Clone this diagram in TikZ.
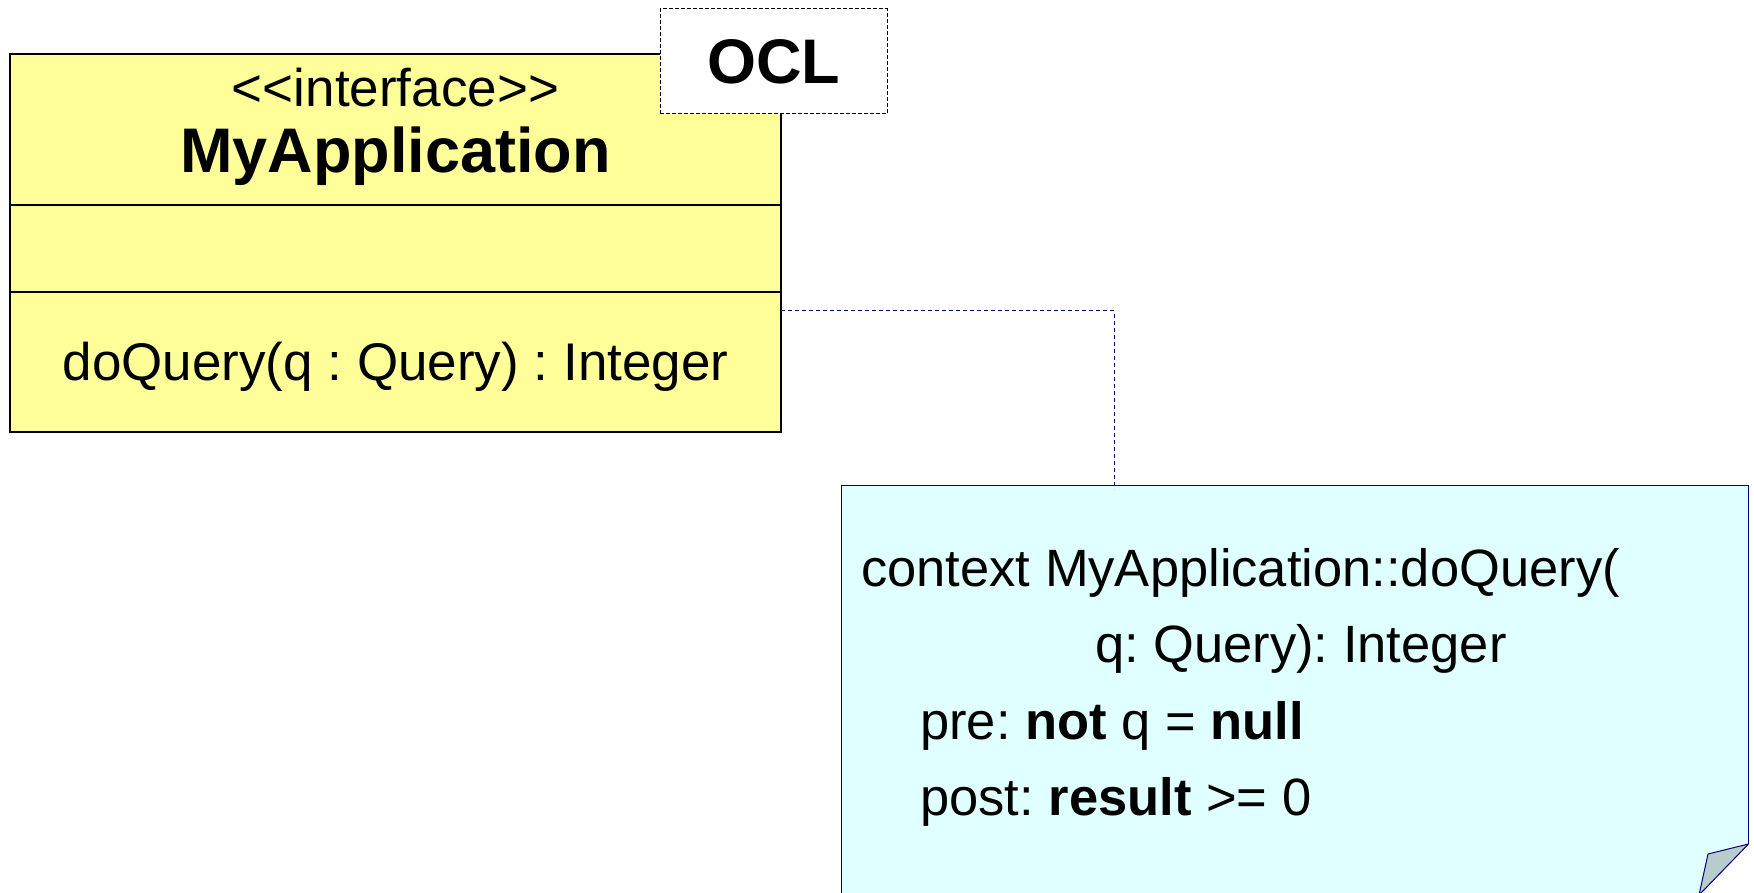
\documentclass[tikz,border=0pt]{standalone}
\usepackage{fontspec}
\setmainfont{Liberation Sans}
\usetikzlibrary{positioning}
\frenchspacing
\definecolor{classyellow}{RGB}{255,255,153}
\definecolor{notecyan}{RGB}{224,255,255}
\definecolor{notenavy}{RGB}{0,0,128}
\definecolor{foldgray}{RGB}{184,204,204}
\tikzset{
  classpart/.style={draw=black, fill=classyellow, line width=1.2pt, minimum width=771pt,
    inner sep=0pt, outer sep=0pt, anchor=north west},
  umltext/.style={anchor=base, inner sep=0pt, font=\fontsize{53}{60}\selectfont},
  umlbold/.style={anchor=base, inner sep=0pt, font=\fontsize{63}{70}\selectfont\bfseries},
  ocltag/.style={draw=black, dashed, dash pattern=on 4pt off 2pt, fill=white, line width=1pt,
    minimum width=227pt, minimum height=105pt, inner sep=0pt, font=\fontsize{63}{70}\selectfont\bfseries},
  notebox/.style={draw=notenavy, fill=notecyan, line width=1pt, anchor=north west,
    minimum width=907pt, minimum height=440pt, inner sep=0pt},
  noteline/.style={anchor=base west, inner sep=0pt, font=\fontsize{52.5}{60}\selectfont},
  tieline/.style={draw=notenavy, line width=1pt, dash pattern=on 4pt off 3pt}
}
\begin{document}
\begin{tikzpicture}[x=1pt,y=-1pt]
                \useasboundingbox (0,0) rectangle (1754,893);
                % interface box
                \node[classpart, minimum height=151pt] (head) at (10,54) {};
                \node[classpart, minimum height=87pt, below=0pt of head] (attrs) {};
                \node[classpart, minimum height=140pt, below=0pt of attrs] (ops) {};
                \node[umltext] (stereo) at (395.5,107) {<\kern0pt<interface>\kern0pt>};
                \node[umlbold] (name) at (395.5,173) {MyApplication};
                \node[umltext] (op) at (395.5,380) {doQuery(q : Query) : Integer};
                \node[ocltag] (ocl) at (773.5,61.5) {OCL};
                % note
                \node[notebox] (note) at (841,485) {};
                \fill[white] (1740,844) -- (1760,844) -- (1760,900) -- (1699,900) -- cycle;
                \draw[notenavy, line width=1pt, fill=foldgray, line join=round] (1748.5,844) -- (1708,854) -- (1699,895) -- cycle;
                \node[noteline] (ctx) at (861,586) {context MyApplication::doQuery(};
                \node[noteline] (sig) at (1095,662) {q: Query): Integer};
                \node[noteline] (pre) at (920,739) {pre: \textbf{not} q = \textbf{null}};
                \node[noteline] (post) at (920,815) {post: \textbf{result} >= 0};
                \coordinate (knee) at (1114,311);
                \draw[tieline] (ops.east |- knee) -- (knee) -- ([yshift=-4pt]note.north -| knee);
            \end{tikzpicture}
\end{document}
